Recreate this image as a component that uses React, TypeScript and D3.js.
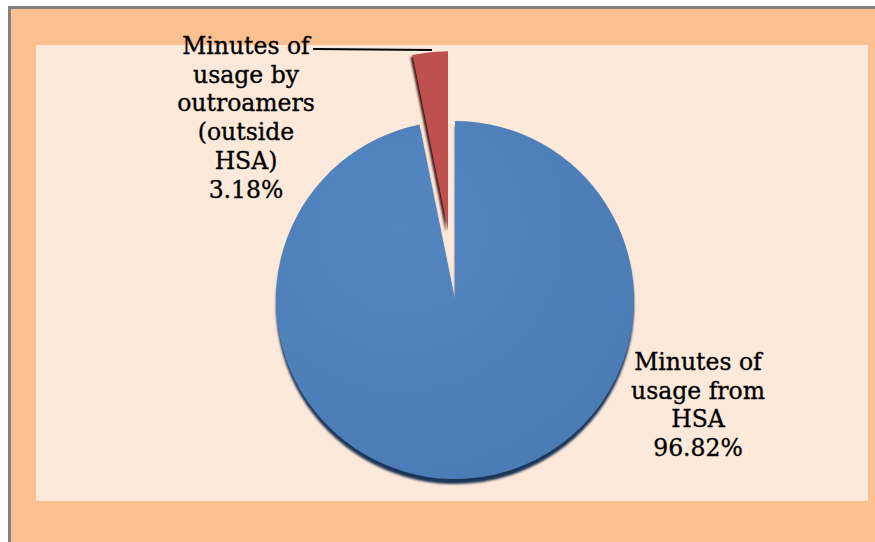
import React from "react";
import * as d3 from "d3";

const categories = ["Minutes of usage from HSA", "Minutes of usage by outroamers (outside HSA)"];
const values = [96.82, 3.18];
const labelLines = [
  ["Minutes of", "usage from", "HSA", "96.82%"],
  ["Minutes of", "usage by", "outroamers", "(outside", "HSA)", "3.18%"],
];
const colors = ["#4F81BD", "#C0504D"];

export default function App() {
  const W = 875, H = 542;
  const cx = 455, cy = 300, r = 179;
  const explode = [0, 70];
  const pie = d3.pie<number>().sort(null).startAngle(0).endAngle(Math.PI * 2);
  const arcs = pie(values);
  const arc = d3.arc<d3.PieArcDatum<number>>().innerRadius(0).outerRadius(r);
  const offs = arcs.map((a, i) => {
    const m = (a.startAngle + a.endAngle) / 2;
    return [Math.sin(m) * explode[i], -Math.cos(m) * explode[i]];
  });
  const lh = 28.7;
  const labelPos = [
    { x: 698, y: 370 },
    { x: 246, y: 54 },
  ];
  return (
    <svg width={W} height={H} style={{ position: "absolute", left: 0, top: 0 }}>
      <defs>
        <filter id="blur" x="-10%" y="-10%" width="120%" height="120%">
          <feGaussianBlur stdDeviation="1.2" />
        </filter>
        <radialGradient id="gb" cx="35%" cy="30%" r="80%">
          <stop offset="0%" stopColor="#5486C1" />
          <stop offset="100%" stopColor="#4A7BB5" />
        </radialGradient>
      </defs>
      <rect x={0} y={0} width={W} height={H} fill="#ffffff" />
      <rect x={8} y={6} width={W} height={H} fill="#FAC090" />
      <rect x={8} y={6} width={W} height={3} fill="#808080" />
      <rect x={8} y={6} width={3} height={H} fill="#808080" />
      <rect x={36} y={45} width={832} height={456} fill="#FDE9D9" />
      {/* shadows */}
      <g transform={`translate(${cx + offs[0][0]},${cy + offs[0][1] + 5})`}>
        <path d={arc(arcs[0]) || ""} fill="#1F3656" filter="url(#blur)" />
      </g>
      <g transform={`translate(${cx + offs[1][0] - 2},${cy + offs[1][1] + 2})`}>
        <path d={arc(arcs[1]) || ""} fill="#3E1414" filter="url(#blur)" />
      </g>
      {arcs.map((a, i) => (
        <g key={i} transform={`translate(${cx + offs[i][0]},${cy + offs[i][1]})`}>
          <path d={arc(a) || ""} fill={i === 0 ? "url(#gb)" : colors[i]} />
        </g>
      ))}
      {/* leader line */}
      <path d="M313,49 L432,50" stroke="#000" strokeWidth={2} fill="none" />
      {labelLines.map((lines, i) => (
        <text
          key={i}
          x={labelPos[i].x}
          y={labelPos[i].y}
          textAnchor="middle"
          fontFamily="'DejaVu Serif', serif"
          fontSize={23.5}
          fill="#000"
          stroke="#000"
          strokeWidth={0.35}
          aria-label={categories[i]}
        >
          {lines.map((l, j) => (
            <tspan key={j} x={labelPos[i].x} y={labelPos[i].y + j * lh}>
              {l}
            </tspan>
          ))}
        </text>
      ))}
    </svg>
  );
}
